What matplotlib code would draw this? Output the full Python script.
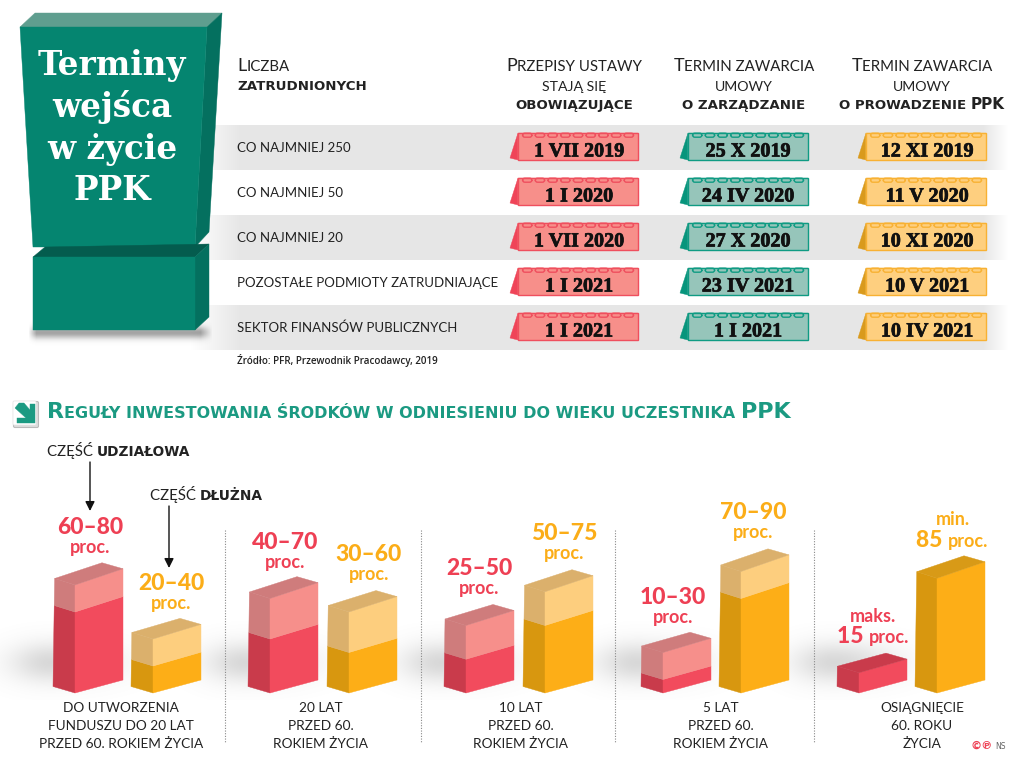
import numpy as np
import matplotlib
matplotlib.use('Agg')
from matplotlib import pyplot as plt
from matplotlib import patheffects
from matplotlib.patches import Polygon, FancyBboxPatch

# ------------------------ data ------------------------
employers = ['CO NAJMNIEJ 250', 'CO NAJMNIEJ 50', 'CO NAJMNIEJ 20',
             'POZOSTAŁE PODMIOTY ZATRUDNIAJĄCE', 'SEKTOR FINANSÓW PUBLICZNYCH']
dates_law = ['1 VII 2019', '1 I 2020', '1 VII 2020', '1 I 2021', '1 I 2021']
dates_mgmt = ['25 X 2019', '24 IV 2020', '27 X 2020', '23 IV 2021', '1 I 2021']
dates_ppk = ['12 XI 2019', '11 V 2020', '10 XI 2020', '10 V 2021', '10 IV 2021']

equity_low = [60, 40, 25, 10, 15]
equity_high = [80, 70, 50, 30, 15]
debt_low = [20, 30, 50, 70, 85]
debt_high = [40, 60, 75, 90, 85]
groups = [['DO UTWORZENIA', 'FUNDUSZU DO 20 LAT', 'PRZED 60. ROKIEM ŻYCIA'],
          ['20 LAT', 'PRZED 60.', 'ROKIEM ŻYCIA'],
          ['10 LAT', 'PRZED 60.', 'ROKIEM ŻYCIA'],
          ['5 LAT', 'PRZED 60.', 'ROKIEM ŻYCIA'],
          ['OSIĄGNIĘCIE', '60. ROKU', 'ŻYCIA']]

# ------------------------ colours ------------------------
TEAL = '#058570'
RED = {'front': '#f24b5d', 'side': '#c93b4b', 'pfront': '#f68f8b', 'pside': '#cf7c7c', 'top': '#c93b4b'}
YEL = {'front': '#fdae17', 'side': '#d8970f', 'pfront': '#fdce7e', 'pside': '#dbb06c', 'top': '#d89a17'}
RED_TXT = '#ee4054'
YEL_TXT = '#fbad18'
INK = '#222222'
SCALE = 1.35   # px per percent

fig = plt.figure(figsize=(10.17, 7.6), dpi=100)
ax = fig.add_axes([0, 0, 1, 1])
ax.set_xlim(0, 1017)
ax.set_ylim(760, 0)
ax.axis('off')
fig.canvas.draw()
renderer = fig.canvas.get_renderer()


def poly(pts, color, z=3, **kw):
    ax.add_patch(Polygon(pts, closed=True, facecolor=color, edgecolor=color, linewidth=0.3, zorder=z, **kw))


def runs(x, y, parts, ha='left', z=6, color=INK):
    # text made from pieces of different size/weight on one baseline
    items = []
    total = 0
    for s, size, font, weight in parts:
        t = ax.text(0, y, s, fontsize=size, family=font, weight=weight, color=color,
                    va='baseline', ha='left', zorder=z)
        w = t.get_window_extent(renderer).width
        items.append((t, w))
        total += w + 0.2
    pos = x - total / 2 if ha == 'center' else x
    for t, w in items:
        t.set_x(pos)
        pos += w + 0.2


def caps(s, first=13, rest=10.8):
    return [(s[0], first, 'Lato', 'normal'), (s[1:].upper(), rest, 'Lato', 'normal')]


def light(s, size=9.6):
    return [(s, size, 'Lato', 'normal')]


def heavy(s, size=9.6):
    return [(s, size, 'DejaVu Sans', 'bold')]


# ------------------------ grey bands and soft shadows ------------------------
for y0 in (125, 215, 305):
    grad = np.ones((1, 1017, 4))
    grad[..., :3] = 0.905
    xs = np.arange(1017)
    grad[..., 3] = np.clip((xs - 190) / 50, 0, 1) * np.clip((1008 - xs) / 25, 0, 1)
    ax.imshow(grad, extent=(0, 1017, y0 + 45, y0), aspect='auto', zorder=1, interpolation='bilinear')

xx, yy = np.meshgrid(np.arange(1017), np.arange(610, 700))
alpha = np.zeros_like(xx, dtype=float)
for cx in (50, 245, 441, 637, 833):
    side = np.where(xx < cx, 40.0, 60.0)
    alpha = np.maximum(alpha, 0.3 * np.exp(-((xx - cx) / side) ** 2 - ((yy - 662) / 20.0) ** 2))
shade = np.zeros(alpha.shape + (4,))
shade[..., :3] = 0.5
shade[..., 3] = alpha
ax.imshow(shade, extent=(0, 1017, 700, 610), aspect='auto', zorder=1)

xx, yy = np.meshgrid(np.arange(0, 260), np.arange(320, 350))
alpha = 0.55 * np.clip((xx - 28) / 8, 0, 1) * np.clip((212 - xx) / 12, 0, 1) * np.exp(-((yy - 332) / 6.0) ** 2)
shade = np.zeros(alpha.shape + (4,))
shade[..., :3] = 0.35
shade[..., 3] = alpha
ax.imshow(shade, extent=(0, 260, 350, 320), aspect='auto', zorder=2)
ax.set_xlim(0, 1017)
ax.set_ylim(760, 0)

# ------------------------ title block ------------------------
poly([(35, 13), (222, 13), (207, 27), (20, 27)], '#5f9e8f')
poly([(207, 27), (222, 13), (209, 232), (195, 247)], '#04705f')
poly([(20, 27), (207, 27), (195, 247), (33, 247)], TEAL)
poly([(33, 257), (45, 247), (209, 244), (195, 257)], '#045c4e')
poly([(195, 257), (209, 244), (209, 317), (195, 330)], '#04705f')
poly([(33, 257), (195, 257), (195, 330), (33, 330)], TEAL)
for s, y in zip(['Terminy', 'wejśca', 'w życie', 'PPK'], [75, 117, 159, 200]):
    ax.text(112, y, s, fontsize=23.5, family='DejaVu Serif', weight='bold', color='white',
            ha='center', va='baseline', zorder=6)

# ------------------------ table ------------------------
runs(237, 71, caps('Liczba'))
runs(237, 90, heavy('ZATRUDNIONYCH'))
header_x = [574, 744, 922]
runs(header_x[0], 71, caps('Przepisy ustawy'), 'center')
runs(header_x[0], 91, light('STAJĄ SIĘ', 10.2), 'center')
runs(header_x[0], 109, heavy('OBOWIĄZUJĄCE'), 'center')
runs(header_x[1], 71, caps('Termin zawarcia'), 'center')
runs(header_x[1], 91, light('UMOWY', 10.2), 'center')
runs(header_x[1], 109, heavy('O ZARZĄDZANIE'), 'center')
runs(header_x[2], 71, caps('Termin zawarcia'), 'center')
runs(header_x[2], 91, light('UMOWY', 10.2), 'center')
runs(header_x[2], 109, heavy('O PROWADZENIE ') + heavy('PPK', 11), 'center')

for i, s in enumerate(employers):
    runs(237, 152 + 45 * i, light(s, 9.5))

ax.text(237, 364, 'Źródło: PFR, Przewodnik Pracodawcy, 2019', fontsize=7.1, family='Open Sans',
        weight='semibold', color=INK, va='baseline', zorder=6)


def calendar(x0, row, text, face, edge, fold, tx):
    top = 133 + 45 * row
    bot = 160 + 45 * row
    left = x0 + 8
    right = x0 + 128
    poly([(x0, bot - 2), (left, top), (left, bot)], fold, z=3)
    poly([(left, top), (right, top), (right, bot), (left, bot)], face, z=4)
    ax.add_patch(Polygon([(left, top), (right, top), (right, bot), (left, bot)], closed=True,
                         fill=False, edgecolor=edge, linewidth=1.0, zorder=5))
    for k in range(9):
        ax.add_patch(FancyBboxPatch((left + 6 + 12.7 * k, top + 1.6), 6.5, 1.2,
                                    boxstyle='round,pad=1.4,rounding_size=2.2',
                                    fill=False, edgecolor=edge, linewidth=1.0, zorder=5))
    t = ax.text(tx, bot - 3.5, text, fontsize=14.5, family='Liberation Serif', weight='bold',
                color='#111111', ha='center', va='baseline', zorder=6)
    t.set_path_effects([patheffects.withStroke(linewidth=0.5, foreground='#111111')])


for i in range(5):
    calendar(510, i, dates_law[i], '#f78f8a', '#ef4f5e', '#ef4458', 579)
    calendar(680, i, dates_mgmt[i], '#96c5ba', '#0f9b83', '#07957c', 748)
    calendar(858, i, dates_ppk[i], '#fecf7f', '#f8b133', '#d99a1d', 927)

# ------------------------ section title ------------------------
ax.add_patch(FancyBboxPatch((15, 403), 22, 23, boxstyle='round,pad=1.5', facecolor='#dddddd',
                            edgecolor='#bbbbbb', linewidth=0.8, zorder=3))
ax.add_patch(FancyBboxPatch((14, 402), 21, 22, boxstyle='round,pad=1', facecolor='white',
                            edgecolor='#e4e4e4', linewidth=0.5, zorder=3))
poly([(19, 403), (24, 403), (30, 410), (30, 404), (35, 404), (35, 423), (17, 423), (17, 418), (26, 418), (15, 408)],
     '#1b9a82', z=4)
runs(47, 418, [('R', 16, 'DejaVu Sans', 'bold'),
               ('EGUŁY INWESTOWANIA ŚRODKÓW W ODNIESIENIU DO WIEKU UCZESTNIKA ', 11.5, 'DejaVu Sans', 'bold'),
               ('PPK', 16, 'DejaVu Sans', 'bold')], color='#1b9a82')

runs(47, 456, light('CZĘŚĆ ', 10.8) + heavy('UDZIAŁOWA', 9.9))
runs(150, 500, light('CZĘŚĆ ', 10.8) + heavy('DŁUŻNA', 9.9))
ax.annotate('', xy=(90, 511), xytext=(90, 462), zorder=6,
            arrowprops=dict(arrowstyle='-|>', color='#111111', lw=1.0, shrinkA=0, shrinkB=0, mutation_scale=14))
ax.annotate('', xy=(169, 568), xytext=(169, 506), zorder=6,
            arrowprops=dict(arrowstyle='-|>', color='#111111', lw=1.0, shrinkA=0, shrinkB=0, mutation_scale=14))

# ------------------------ 3d blocks ------------------------
BASE = 693
LEFT_W = 22
RIGHT_W = 48


def block(x0, low, high, col):
    hl = low * SCALE
    hh = high * SCALE
    xf = x0 + LEFT_W
    xr = xf + RIGHT_W

    def pts(h):
        # left, front and right corner at height h above the base
        return ((x0 + h * 0.015, BASE - 6.5 - h),
                (xf, BASE - h),
                (xr, BASE - 13 - h - h * 0.03))
    l0, f0, r0 = pts(0)
    l1, f1, r1 = pts(hl)
    l2, f2, r2 = pts(hh)
    poly([l0, f0, f1, l1], col['side'])
    poly([f0, r0, r1, f1], col['front'])
    if high > low:
        poly([l1, f1, f2, l2], col['pside'])
        poly([f1, r1, r2, f2], col['pfront'])
    back = (r2[0] - 21, r2[1] - 6)
    poly([l2, f2, r2, back], col['pside'] if high > low else col['top'])


red_x = [53, 248, 444, 641, 837]
yel_x = [131, 327, 523, 719, 915]
for i in range(5):
    block(red_x[i], equity_low[i], equity_high[i], RED)
    block(yel_x[i], debt_low[i], debt_high[i], YEL)

# value labels
eq_pos = [(90, 534), (285, 549), (479, 575), (673, 604)]
de_pos = [(171, 590), (369, 561), (564, 540), (753, 519)]
for i, (x, y) in enumerate(eq_pos):
    ax.text(x, y, '%d–%d' % (equity_low[i], equity_high[i]), fontsize=16.5, family='Lato', weight='black',
            color=RED_TXT, ha='center', zorder=6)
    ax.text(x, y + 19, 'proc.', fontsize=13, family='Lato', weight='bold', color=RED_TXT, ha='center', zorder=6)
for i, (x, y) in enumerate(de_pos):
    ax.text(x, y, '%d–%d' % (debt_low[i], debt_high[i]), fontsize=16.5, family='Lato', weight='black',
            color=YEL_TXT, ha='center', zorder=6)
    ax.text(x, y + 19, 'proc.', fontsize=13, family='Lato', weight='bold', color=YEL_TXT, ha='center', zorder=6)
ax.text(873, 622, 'maks.', fontsize=13, family='Lato', weight='bold', color=RED_TXT, ha='center', zorder=6)
runs(873, 643, [('%d ' % equity_high[4], 16.5, 'Lato', 'black'), ('proc.', 13, 'Lato', 'bold')], 'center', color=RED_TXT)
ax.text(953, 525, 'min.', fontsize=13, family='Lato', weight='bold', color=YEL_TXT, ha='center', zorder=6)
runs(952, 547, [('%d ' % debt_low[4], 16.5, 'Lato', 'black'), ('proc.', 13, 'Lato', 'bold')], 'center', color=YEL_TXT)

# separators and group captions
for x in (225, 421, 615, 814):
    ax.plot([x, x], [530, 742], color='#888888', lw=0.8, ls=(0, (1, 1.4)), zorder=2)
for cx, lines in zip([121, 321, 521, 721, 922], groups):
    for y, s in zip([712, 730, 748], lines):
        runs(cx, y, light(s, 9.8), 'center')

ax.text(970, 749, '©℗', fontsize=8, family='DejaVu Sans', weight='bold', color=RED_TXT, va='baseline', zorder=6)
ax.text(995, 749, 'NS', fontsize=5.5, family='DejaVu Sans', color='#666666', va='baseline', zorder=6)

fig.savefig('out.png', dpi=100)
